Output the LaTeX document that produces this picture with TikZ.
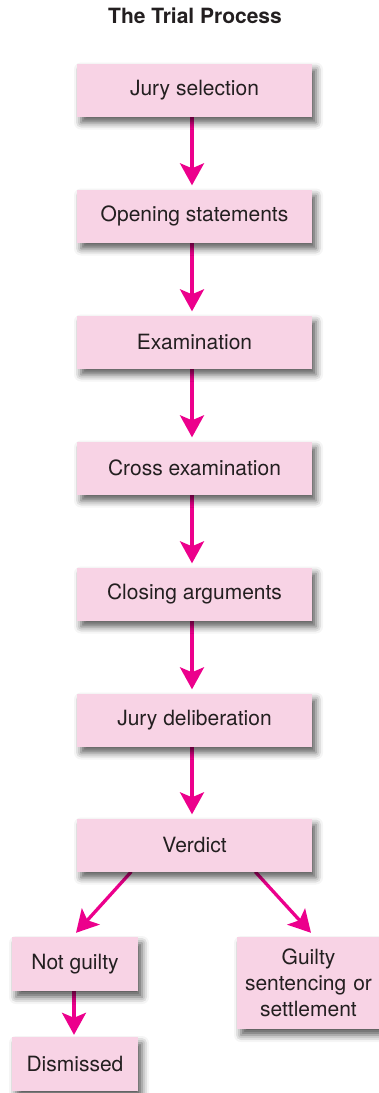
\documentclass[tikz,border=0pt]{standalone}
\usepackage{fontspec}
\setmainfont{TeX Gyre Heros}
\usetikzlibrary{arrows.meta,shadows.blur,backgrounds}
\definecolor{boxpink}{HTML}{F8D3E5}
\definecolor{arrowpink}{HTML}{EC008C}
\definecolor{textgrey}{HTML}{231F20}
\tikzset{
  stepbox/.style={fill=boxpink, minimum width=235pt, minimum height=53pt, text=textgrey,
    font=\fontsize{21}{26}\selectfont, inner sep=0pt,
    blur shadow={shadow xshift=4pt, shadow yshift=-6pt, shadow blur radius=7pt, shadow opacity=65}},
  smallbox/.style={stepbox, minimum width=126pt, minimum height=54pt},
  flow/.style={draw=arrowpink, line width=3.3pt, -{Stealth[length=22pt,width=24pt,inset=5pt]}}
}
\begin{document}
\begin{tikzpicture}[x=1pt,y=1pt]
\useasboundingbox (0,0) rectangle (379,-1093);
\clip (0,0) rectangle (379,-1093);
\node[font=\bfseries\fontsize{21}{25}\selectfont, text=textgrey] (title) at (195,-16) {The Trial Process};
\node[stepbox] (jury) at (194.5,-90) {Jury selection};
\node[stepbox] (open) at (194.5,-216) {Opening statements};
\node[stepbox] (exam) at (194.5,-342) {Examination};
\node[stepbox] (cross) at (194.5,-468) {Cross examination};
\node[stepbox] (close) at (194.5,-594) {Closing arguments};
\node[stepbox] (delib) at (194.5,-720) {Jury deliberation};
\node[stepbox] (verdict) at (194.5,-845) {Verdict};
\node[smallbox] (notg) at (75,-964) {Not guilty};
\node[smallbox] (dism) at (75,-1064) {Dismissed};
\node[stepbox, minimum width=143pt, minimum height=92pt, text width=140pt, align=center] (guilty) at (308.5,-983) {Guilty\\sentencing or\\settlement};
\begin{scope}[on background layer]
\draw[flow] ([xshift=-2.5pt]jury.south) -- ([xshift=-2.5pt,yshift=4pt]open.north);
\draw[flow] ([xshift=-2.5pt]open.south) -- ([xshift=-2.5pt,yshift=4pt]exam.north);
\draw[flow] ([xshift=-2.5pt]exam.south) -- ([xshift=-2.5pt,yshift=4pt]cross.north);
\draw[flow] ([xshift=-2.5pt]cross.south) -- ([xshift=-2.5pt,yshift=4pt]close.north);
\draw[flow] ([xshift=-2.5pt]close.south) -- ([xshift=-2.5pt,yshift=4pt]delib.north);
\draw[flow] ([xshift=-2.5pt]delib.south) -- ([xshift=-2.5pt,yshift=4pt]verdict.north);
\draw[flow] ([xshift=54.5pt]verdict.south west) -- ([xshift=1pt,yshift=4pt]notg.north);
\draw[flow] ([xshift=-57pt]verdict.south east) -- ([xshift=2.5pt,yshift=4pt]guilty.north);
\draw[flow] ([xshift=-1pt]notg.south) -- ([xshift=-1pt,yshift=2pt]dism.north);
\end{scope}
\end{tikzpicture}
\end{document}
